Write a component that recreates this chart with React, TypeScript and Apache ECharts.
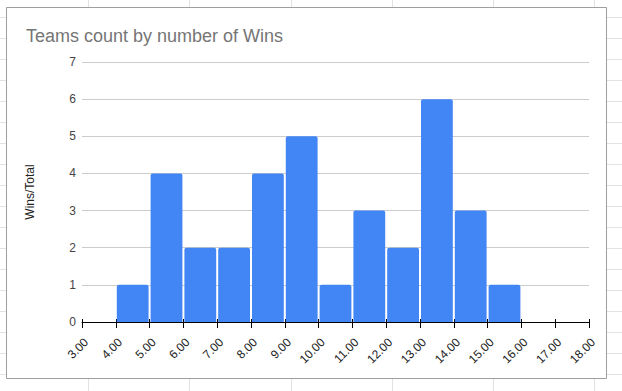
import React, { useEffect, useRef } from "react";
import * as echarts from "echarts";

const titleText = "Teams count by number of Wins";
const yAxisName = "Wins/Total";
const binStarts = [4, 5, 6, 7, 8, 9, 10, 11, 12, 13, 14, 15];
const binEnds = [5, 6, 7, 8, 9, 10, 11, 12, 13, 14, 15, 16];
const counts = [1, 4, 2, 2, 4, 5, 1, 3, 2, 6, 3, 1];
const xMin = 3;
const xMax = 18;
const yMin = 0;
const yMax = 7;

const W = 622;
const H = 391;
const FONT = "Arial, 'Liberation Sans', sans-serif";

export default function App() {
  const ref = useRef<HTMLDivElement>(null);
  useEffect(() => {
    if (!ref.current) return;
    const chart = echarts.init(ref.current, null, { renderer: "svg" });

    const bg: any[] = [];
    // spreadsheet cell grid behind the chart box
    const vx = [88, 189, 291, 392, 493, 594];
    vx.forEach((x) =>
      bg.push({ type: "line", shape: { x1: x + 0.5, y1: 0, x2: x + 0.5, y2: H }, style: { stroke: "#e2e2e2", lineWidth: 1 } })
    );
    for (let y = 17; y < H; y += 21) {
      bg.push({ type: "line", shape: { x1: 0, y1: y + 0.5, x2: W, y2: y + 0.5 }, style: { stroke: "#e2e2e2", lineWidth: 1 } });
    }
    bg.push({
      type: "rect",
      shape: { x: 6.5, y: 7.5, width: 600, height: 371 },
      style: { fill: "#ffffff", stroke: "#9e9e9e", lineWidth: 1 },
    });

    const data = binStarts.map((s, i) => [s, binEnds[i], counts[i]]);

    chart.setOption({
      animation: false,
      backgroundColor: "#ffffff",
      textStyle: { fontFamily: FONT },
      graphic: { elements: bg },
      title: {
        text: titleText,
        left: 21,
        top: 22,
        textStyle: { color: "#757575", fontSize: 18, fontWeight: "normal", fontFamily: FONT },
      },
      grid: { left: 82, right: 33, top: 62, bottom: 69, containLabel: false },
      xAxis: [
        {
          type: "value",
          min: xMin,
          max: xMax,
          interval: 1,
          axisLine: { show: true, onZero: false, lineStyle: { color: "#000000", width: 1 } },
          axisTick: { show: true, length: 6, lineStyle: { color: "#000000" } },
          axisLabel: {
            rotate: 45,
            fontSize: 12,
            color: "#222222",
            margin: 14,
            verticalAlign: "top",
            fontFamily: FONT,
            formatter: (v: number) => v.toFixed(2),
          },
          splitLine: { show: false },
        },
        {
          type: "value",
          position: "bottom",
          min: xMin,
          max: xMax,
          interval: 1,
          axisLine: { show: false },
          axisTick: { show: true, inside: true, length: 3, lineStyle: { color: "#000000" } },
          axisLabel: { show: false },
          splitLine: { show: false },
        },
      ],
      yAxis: {
        type: "value",
        min: yMin,
        max: yMax,
        interval: 1,
        name: yAxisName,
        nameLocation: "middle",
        nameGap: 46,
        nameTextStyle: { color: "#222222", fontSize: 12, fontFamily: FONT },
        axisLine: { show: false },
        axisTick: { show: false },
        axisLabel: { color: "#444444", fontSize: 12, margin: 6, fontFamily: FONT },
        splitLine: { lineStyle: { color: "#cccccc", width: 1 } },
      },
      series: [
        {
          type: "custom",
          z: 1,
          renderItem: (params: any, api: any) => {
            const s = api.value(0);
            const e = api.value(1);
            const c = api.value(2);
            const p0 = api.coord([s, 0]);
            const p1 = api.coord([e, c]);
            return {
              type: "rect",
              shape: {
                x: p0[0] + 1,
                y: p1[1],
                width: p1[0] - p0[0] - 2,
                height: p0[1] - p1[1],
                r: [2, 2, 0, 0],
              },
              style: { fill: "#4285f4" },
            };
          },
          encode: { x: [0, 1], y: 2 },
          data: data,
        },
      ],
    });
    return () => chart.dispose();
  }, []);
  return (
    <div
      ref={ref}
      style={{ position: "fixed", left: 0, top: 0, width: W, height: H }}
    />
  );
}
